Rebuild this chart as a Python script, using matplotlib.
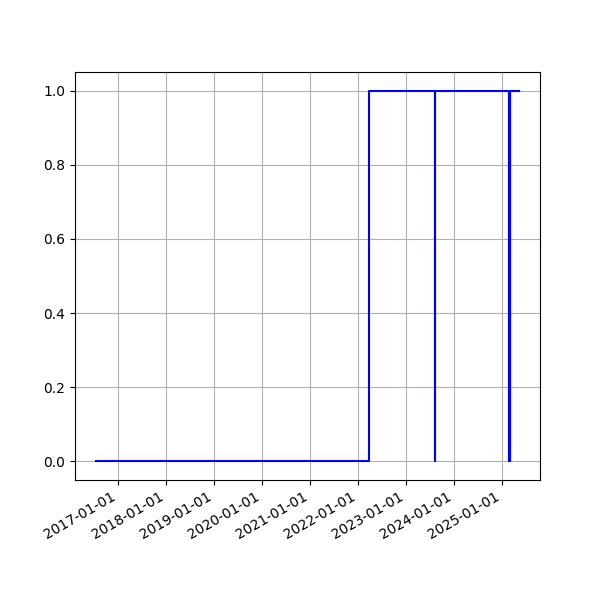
import matplotlib
matplotlib.use("Agg")
import matplotlib.pyplot as plt
import matplotlib.dates as mdates
import pandas as pd

dates = ["2016-07-16", "2022-03-24", "2023-08-07", "2023-08-09",
         "2025-02-24", "2025-02-26", "2025-03-01", "2025-03-03", "2025-05-10"]
values = [0, 1, 0, 1, 0, 1, 0, 1, 1]

x = pd.to_datetime(dates)
fig, ax = plt.subplots(figsize=(6, 6), dpi=100)
ax.plot(x, values, color="blue", drawstyle="steps-post")
ax.xaxis.set_major_locator(mdates.YearLocator())
ax.xaxis.set_major_formatter(mdates.DateFormatter("%Y-%m-%d"))
ax.grid(True)
fig.autofmt_xdate()
fig.savefig("out.png")
